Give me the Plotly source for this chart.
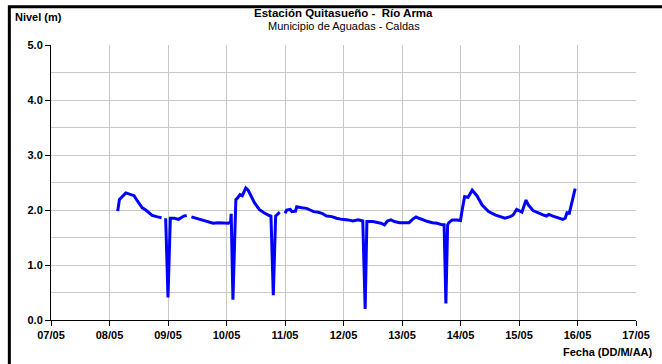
import plotly.graph_objects as go

# Day of month (May) as fractional days; None marks gaps in the record
dias = [8.14, 8.17, 8.28, 8.37, 8.42, 8.48, 8.56, 8.62, 8.73, 8.82, 8.89, None,
        8.96, 9.0, 9.04, 9.11, 9.18, 9.27, 9.32, None,
        9.40, 9.49, 9.57, 9.68, 9.77, 9.86, 9.94, 10.03, 10.07, 10.08, 10.11,
        10.16, 10.19, 10.23, 10.27, 10.33, 10.37, 10.42, 10.48, 10.56, 10.64, 10.73, 10.76, 10.80,
        10.84, 10.91, None,
        11.0, 11.03, 11.09, 11.12, 11.18, 11.2, 11.29, 11.37, 11.43, 11.49, 11.57, 11.63, 11.71,
        11.80, 11.88, 11.97, 12.08, 12.16, 12.25, 12.33, 12.37, 12.40, 12.5, 12.59, 12.64, 12.70,
        12.75, 12.81, 12.87, 12.96, 13.04, 13.12, 13.18, 13.24, 13.29, 13.35, 13.44, 13.52, 13.6,
        13.69, 13.72, 13.75, 13.78, 13.8, 13.86, 13.94, 14.0, 14.03, 14.07, 14.13, 14.2, 14.28,
        14.37, 14.48, 14.59, 14.68, 14.76, 14.85, 14.9, 14.96, 15.05, 15.12, 15.16, 15.24, 15.33,
        15.41, 15.47, 15.51, 15.58, 15.67, 15.75, 15.79, 15.82, 15.86, 15.96]

nivel = [1.98, 2.19, 2.31, 2.28, 2.26, 2.16, 2.04, 2.0, 1.90, 1.875, 1.86, None,
         1.85, 0.41, 1.85, 1.85, 1.83, 1.89, 1.90, None,
         1.875, 1.85, 1.82, 1.79, 1.76, 1.77, 1.76, 1.76, 1.78, 1.93, 0.37,
         2.19, 2.22, 2.28, 2.26, 2.40, 2.36, 2.25, 2.13, 2.01, 1.95, 1.90, 1.89, 0.45,
         1.89, 1.96, None,
         1.94, 2.0, 2.01, 1.97, 1.98, 2.06, 2.04, 2.03, 2.0, 1.97, 1.96, 1.94, 1.89,
         1.88, 1.85, 1.83, 1.82, 1.80, 1.82, 1.80, 0.20, 1.79, 1.79, 1.77, 1.76, 1.73,
         1.80, 1.82, 1.79, 1.77, 1.77, 1.77, 1.83, 1.875, 1.85, 1.82, 1.79, 1.77, 1.76,
         1.73, 1.73, 0.30, 1.73, 1.77, 1.82, 1.82, 1.81, 2.01, 2.24, 2.23, 2.36, 2.26,
         2.09, 1.97, 1.91, 1.88, 1.85, 1.88, 1.91, 2.01, 1.96, 2.18, 2.09, 1.99, 1.94,
         1.91, 1.89, 1.92, 1.89, 1.86, 1.83, 1.85, 1.95, 1.94, 2.39]

tick_vals = [7, 8, 9, 10, 11, 12, 13, 14, 15, 16, 17]
tick_text = ["07/05", "08/05", "09/05", "10/05", "11/05", "12/05", "13/05",
             "14/05", "15/05", "16/05", "17/05"]

FONT = "Liberation Sans, Arial, sans-serif"

fig = go.Figure()
fig.add_trace(go.Scatter(x=dias, y=nivel, mode="lines",
                         line=dict(color="#0000FF", width=3),
                         connectgaps=False, hoverinfo="x+y"))

fig.update_layout(
    width=662, height=364,
    margin=dict(l=51, r=21, t=45, b=44),
    paper_bgcolor="white", plot_bgcolor="white",
    showlegend=False,
    font=dict(family=FONT, size=11, color="black"),
    xaxis=dict(range=[7, 17], tickvals=tick_vals, ticktext=tick_text,
               showgrid=True, gridcolor="#c8c8c8", gridwidth=1,
               showline=True, linecolor="black", linewidth=1,
               ticks="outside", ticklen=5, tickcolor="black",
               tickfont=dict(family=FONT, size=11, weight="bold"),
               zeroline=False, mirror=False),
    yaxis=dict(range=[0, 5], dtick=1, tickformat=".1f",
               showgrid=True, gridcolor="#c8c8c8", gridwidth=1,
               minor=dict(dtick=0.5, showgrid=True, gridcolor="#c8c8c8", gridwidth=1),
               showline=True, linecolor="black", linewidth=1,
               ticks="outside", ticklen=5, tickcolor="black",
               tickfont=dict(family=FONT, size=11, weight="bold"),
               zeroline=False),
)

fig.add_annotation(text="<b>Estación Quitasueño -  Río Arma</b>", xref="paper", yref="paper",
                   x=0.5, y=1, yshift=32, xanchor="center", yanchor="middle",
                   showarrow=False, font=dict(family=FONT, size=11.5))
fig.add_annotation(text="Municipio de Aguadas - Caldas", xref="paper", yref="paper",
                   x=0.5, y=1, yshift=19, xanchor="center", yanchor="middle",
                   showarrow=False, font=dict(family=FONT, size=11))
fig.add_annotation(text="<b>Nivel (m)</b>", xref="paper", yref="paper",
                   x=0, xshift=-38, y=1, yshift=28, xanchor="left", yanchor="middle",
                   showarrow=False, font=dict(family=FONT, size=11))
fig.add_annotation(text="<b>Fecha (DD/M/AA)</b>", xref="paper", yref="paper",
                   x=1, xshift=19, y=0, yshift=-32, xanchor="right", yanchor="middle",
                   showarrow=False, font=dict(family=FONT, size=11))

# outer frame: rectangle whose right and bottom edges fall outside the page
fig.add_shape(type="rect", xref="paper", yref="paper",
              x0=-0.0712, x1=1.1, y0=-0.2, y1=1.139,
              line=dict(color="black", width=3), fillcolor="rgba(0,0,0,0)", layer="above")

fig.write_html("out.html",
               config={"displayModeBar": False},
               post_script="document.body.style.margin='0';document.body.style.overflow='hidden';")
